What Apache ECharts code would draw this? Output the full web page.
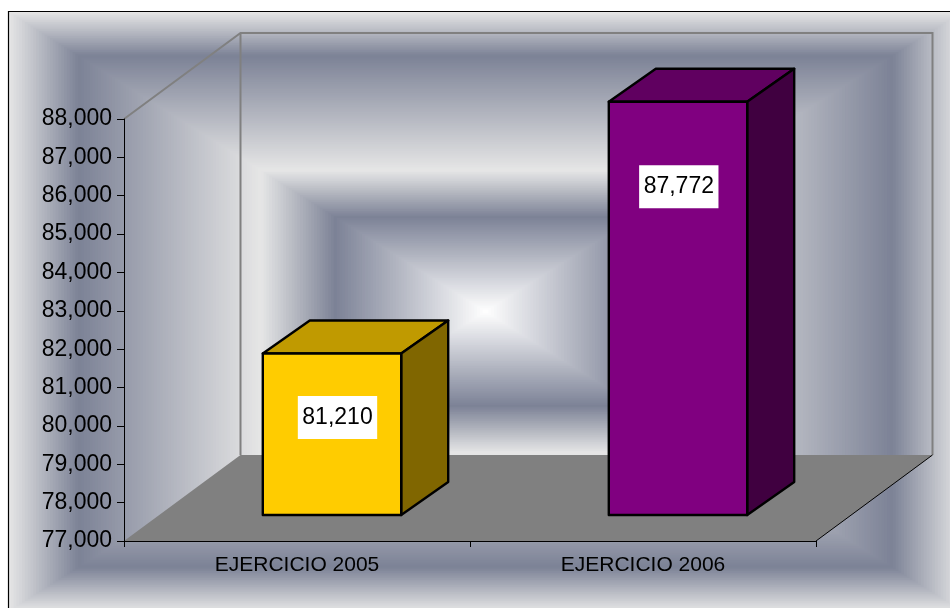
<!DOCTYPE html>
<html>
<head>
<meta charset="utf-8">
<style>html,body{margin:0;padding:0;background:#fff}#c{width:950px;height:608px}</style>
<script src="https://cdn.jsdelivr.net/npm/echarts@6/dist/echarts.min.js"></script>
</head>
<body>
<div id="c"></div>
<script>
var categories = ['EJERCICIO 2005', 'EJERCICIO 2006'];
var values = [81210, 87772];
var frontColors = ['#FFCC00', '#800080'];
var topColors = ['#C09A00', '#600060'];
var sideColors = ['#806600', '#400040'];
var labelDy = [64, 85];
var labelDx = [5.5, 0.8];

var FONT = '"Liberation Sans", Arial, sans-serif';

function fmt(v) { return String(v).replace(/\B(?=(\d{3})+$)/g, ','); }

// concentric rectangular gradient profile
var stops = [[0, [231, 231, 231]], [0.148, [124, 130, 150]], [0.53, [230, 230, 230]], [0.685, [124, 130, 150]], [1, [255, 255, 255]]];
function profile(t) {
  for (var i = 1; i < stops.length; i++) {
    if (t <= stops[i][0]) {
      var a = stops[i - 1], b = stops[i], f = (t - a[0]) / (b[0] - a[0]);
      return 'rgb(' + a[1].map(function (c, k) { return Math.round(c + (b[1][k] - c) * f); }).join(',') + ')';
    }
  }
  return '#fff';
}
var bg = [];
var CX = 485.5, CY = 311.5, HW = 477.5, HH = 300, STEPS = 170;
for (var s = 0; s < STEPS; s++) {
  var t = s / STEPS;
  bg.push({
    type: 'rect', silent: true, z: -100 + s * 0.01,
    shape: { x: CX - HW * (1 - t), y: CY - HH * (1 - t), width: 2 * HW * (1 - t), height: 2 * HH * (1 - t) },
    style: { fill: profile(t + 0.5 / STEPS) }
  });
}
bg.push({ type: 'polyline', silent: true, z: 50, shape: { points: [[8.5, 608], [8.5, 11.5], [950, 11.5]] }, style: { stroke: '#000', lineWidth: 1.2, fill: null } });

var WALL_DX = 116.5, WALL_DY = 86;
function renderRoom(params, api) {
  var g = params.coordSys;
  var x0 = g.x, x1 = g.x + g.width, top = g.y, bot = g.y + g.height;
  var grey = { stroke: '#808080', lineWidth: 2, fill: null };
  return {
    type: 'group',
    children: [
      { type: 'polygon', shape: { points: [[x0, bot], [x1, bot], [x1 + WALL_DX, bot - WALL_DY], [x0 + WALL_DX, bot - WALL_DY]] }, style: { fill: '#808080' } },
      { type: 'polyline', shape: { points: [[x0, top], [x0 + WALL_DX, top - WALL_DY], [x1 + WALL_DX, top - WALL_DY], [x1 + WALL_DX, bot - WALL_DY]] }, style: grey },
      { type: 'line', shape: { x1: x0 + WALL_DX, y1: top - WALL_DY, x2: x0 + WALL_DX, y2: bot - WALL_DY }, style: { stroke: '#808080', lineWidth: 2 } },
      { type: 'line', shape: { x1: x1, y1: bot, x2: x1 + WALL_DX, y2: bot - WALL_DY }, style: { stroke: '#000', lineWidth: 1 } }
    ]
  };
}

var SHIFT_X = 35, SHIFT_Y = -26, DEPTH_X = 47, DEPTH_Y = -33;
function renderBar(params, api) {
  var i = api.value(0);
  var p = api.coord([i, api.value(1)]);
  var base = api.coord([i, 77000]);
  var hw = api.size([1, 0])[0] * 0.2;
  var l = p[0] + SHIFT_X - hw, r = p[0] + SHIFT_X + hw;
  var t = p[1] + SHIFT_Y, b = base[1] + SHIFT_Y;
  var st = { stroke: '#000', lineWidth: 2.4, lineJoin: 'round' };
  function poly(points, fill) {
    return { type: 'polygon', shape: { points: points }, style: Object.assign({ fill: fill }, st) };
  }
  return {
    type: 'group',
    children: [
      poly([[l, t], [r, t], [r + DEPTH_X, t + DEPTH_Y], [l + DEPTH_X, t + DEPTH_Y]], topColors[i]),
      poly([[r, t], [r + DEPTH_X, t + DEPTH_Y], [r + DEPTH_X, b + DEPTH_Y], [r, b]], sideColors[i]),
      poly([[l, t], [r, t], [r, b], [l, b]], frontColors[i]),
      {
        type: 'text',
        style: {
          x: (l + r) / 2 + labelDx[i], y: t + labelDy[i],
          text: fmt(api.value(1)), fill: '#000', font: '23px ' + FONT,
          align: 'center', verticalAlign: 'middle',
          backgroundColor: '#fff', padding: [10, 4.5, 10, 4.5]
        }
      }
    ]
  };
}

var chart = echarts.init(document.getElementById('c'), null, { renderer: 'canvas' });
chart.setOption({
  animation: false,
  backgroundColor: '#fff',
  graphic: { elements: bg },
  grid: { left: 124, top: 119, width: 692, height: 422, containLabel: false },
  tooltip: { show: false },
  xAxis: {
    type: 'category', data: categories, z: 5,
    axisLine: { lineStyle: { color: '#000', width: 1 } },
    axisTick: { show: true, length: 6, alignWithLabel: false, lineStyle: { color: '#000', width: 1 } },
    axisLabel: { color: '#000', fontFamily: FONT, fontSize: 21, margin: 14 },
    splitLine: { show: false }
  },
  yAxis: {
    type: 'value', min: 77000, max: 88000, interval: 1000, z: 5,
    axisLine: { show: true, lineStyle: { color: '#000', width: 1 } },
    axisTick: { show: true, length: 7, lineStyle: { color: '#000', width: 1 } },
    axisLabel: { color: '#000', fontFamily: FONT, fontSize: 23, margin: 12, formatter: fmt },
    splitLine: { show: false }
  },
  series: [
    { type: 'custom', coordinateSystem: 'cartesian2d', renderItem: renderRoom, data: [[0, 77000]], silent: true, z: 2, clip: false },
    { type: 'custom', coordinateSystem: 'cartesian2d', renderItem: renderBar, data: values.map(function (v, i) { return [i, v]; }), silent: true, z: 3, clip: false, encode: { x: 0, y: 1 } }
  ]
});
</script>
</body>
</html>
